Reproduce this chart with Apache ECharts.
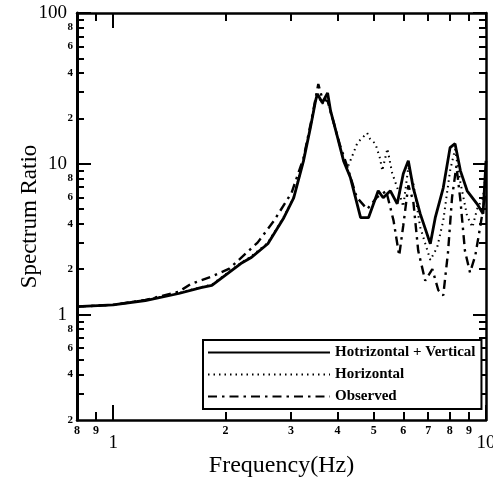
<!DOCTYPE html>
<html>
<head>
<meta charset="utf-8">
<script src="https://cdn.jsdelivr.net/npm/echarts@6/dist/echarts.min.js"></script>
<style>html,body{margin:0;padding:0;background:#fff;}#c{width:493px;height:479px;}</style>
</head>
<body>
<div id="c"></div>
<script>
// ---- data ----
const seriesNames = ['Hotrizontal + Vertical', 'Horizontal', 'Observed'];

const freqHV = [0.8, 1.0, 1.22, 1.50, 1.72, 1.84, 2.20, 2.34, 2.60, 2.87, 3.05, 3.24, 3.38, 3.49, 3.53, 3.64, 3.76, 3.83, 4.00, 4.15, 4.33, 4.61, 4.84, 5.14, 5.30, 5.54, 5.78, 6.00, 6.19, 6.38, 6.66, 7.09, 7.31, 7.68, 8.01, 8.26, 8.54, 8.90, 9.46, 9.82, 10.0];
const ratioHV = [1.13, 1.16, 1.24, 1.38, 1.51, 1.56, 2.18, 2.38, 2.95, 4.39, 5.95, 10.46, 17.3, 26.1, 29.1, 25.4, 29.5, 22.4, 14.9, 10.46, 8.07, 4.39, 4.39, 6.62, 5.95, 6.62, 5.43, 8.58, 10.46, 6.93, 4.67, 2.95, 4.39, 6.93, 12.8, 13.6, 8.98, 6.62, 5.43, 4.67, 10.46];

const freqH = [0.8, 1.0, 1.22, 1.50, 1.72, 1.84, 2.20, 2.34, 2.60, 2.87, 3.05, 3.24, 3.38, 3.49, 3.53, 3.64, 3.76, 3.83, 4.00, 4.15, 4.25, 4.38, 4.52, 4.80, 4.89, 5.05, 5.20, 5.27, 5.44, 5.60, 5.86, 6.00, 6.19, 6.38, 6.66, 7.09, 7.40, 7.68, 8.01, 8.26, 8.54, 8.90, 9.20, 9.46, 9.82, 10.0];
const ratioH = [1.13, 1.16, 1.25, 1.39, 1.52, 1.58, 2.20, 2.42, 3.0, 4.45, 6.0, 10.6, 17.5, 26.0, 28.5, 25.0, 28.5, 22.0, 15.0, 10.6, 9.4, 11.3, 13.8, 16.0, 14.6, 13.6, 10.8, 9.0, 12.6, 8.7, 6.3, 5.2, 9.5, 7.5, 3.8, 2.3, 2.8, 4.2, 9.0, 12.5, 7.5, 4.5, 3.8, 5.0, 6.0, 9.0];

const freqObs = [0.8, 1.0, 1.22, 1.50, 1.62, 1.86, 2.05, 2.44, 2.70, 3.01, 3.24, 3.40, 3.55, 3.64, 3.76, 3.90, 4.05, 4.25, 4.50, 4.80, 5.10, 5.40, 5.65, 5.85, 6.00, 6.19, 6.38, 6.58, 6.87, 7.18, 7.45, 7.68, 7.91, 8.11, 8.33, 8.54, 8.78, 9.06, 9.36, 9.66, 10.0];
const ratioObs = [1.13, 1.16, 1.25, 1.42, 1.60, 1.81, 2.02, 3.0, 4.19, 6.43, 10.9, 19.3, 33.8, 27, 26, 19, 13.5, 9.5, 6.0, 5.0, 6.0, 6.6, 4.2, 2.46, 3.9, 7.2, 5.7, 2.65, 1.68, 2.0, 1.45, 1.34, 2.6, 6.0, 9.7, 5.7, 2.65, 1.9, 2.46, 3.9, 6.6];

// tick values / labels
const xMajorTicks = [1, 10];
const xMinorTicks = [0.9, 2, 3, 4, 5, 6, 7, 8, 9];
const xMinorLabels = [0.8, 0.9, 2, 3, 4, 5, 6, 7, 8, 9];
const yMajorTicks = [1, 10, 100];
const yMinorTicks = [0.3, 0.4, 0.5, 0.6, 0.7, 0.8, 0.9, 2, 3, 4, 5, 6, 7, 8, 9, 20, 30, 40, 50, 60, 70, 80, 90];
const yMinorLabels = [0.2, 0.4, 0.6, 0.8, 2, 4, 6, 8, 20, 40, 60, 80];

const FONT = '"Liberation Serif", "DejaVu Serif", serif';
const zip = (a, b) => a.map((v, i) => [v, b[i]]);
const digit = v => { let d = v; let k = 0; while (d >= 9.5 && k < 10) { d /= 10; k++; } while (d < 0.95 && k < 20) { d *= 10; k++; } return String(Math.round(d)); };

const xMin = 0.8, xMax = 10, yMin = 0.2, yMax = 100;
const baseX = { type: 'log', logBase: 10, min: xMin, max: xMax, gridIndex: 0, splitLine: { show: false }, minorTick: { show: false } };
const baseY = { type: 'log', logBase: 10, min: yMin, max: yMax, gridIndex: 0, splitLine: { show: false }, minorTick: { show: false } };
const lineSty = { show: true, lineStyle: { color: '#000', width: 2.5 } };
const tickSty = (len, vals) => ({ show: true, inside: true, length: len, lineStyle: { color: '#000', width: 2 }, customValues: vals });

const chart = echarts.init(document.getElementById('c'), null, { renderer: 'canvas' });
chart.setOption({
  animation: false,
  backgroundColor: '#fff',
  grid: { left: 77, right: 7, top: 13, bottom: 59, outerBoundsMode: 'none', containLabel: false },
  legend: {
    orient: 'vertical', left: 203, top: 340,
    data: seriesNames,
    itemWidth: 122, itemHeight: 14, itemGap: 7,
    padding: [5, 6, 5, 4],
    borderColor: '#000', borderWidth: 2, backgroundColor: '#fff',
    itemStyle: { opacity: 0 },
    textStyle: { fontFamily: FONT, fontWeight: 'bold', fontSize: 15, color: '#000' }
  },
  xAxis: [
    Object.assign({}, baseX, {
      position: 'bottom', axisLine: lineSty,
      axisTick: tickSty(15, xMajorTicks),
      axisLabel: { show: true, margin: 14, fontFamily: FONT, fontSize: 19, color: '#000', customValues: xMajorTicks, formatter: v => String(Math.round(v)) },
      name: 'Frequency(Hz)', nameLocation: 'middle', nameGap: 34, nameMoveOverlap: false,
      nameTextStyle: { fontFamily: FONT, fontSize: 24, color: '#000' }
    }),
    Object.assign({}, baseX, {
      position: 'bottom', axisLine: { show: false },
      axisTick: tickSty(8, xMinorTicks),
      axisLabel: { show: true, margin: 5, fontFamily: FONT, fontWeight: 'bold', fontSize: 12, color: '#000', customValues: xMinorLabels, formatter: digit }
    }),
    Object.assign({}, baseX, {
      position: 'top', axisLine: lineSty,
      axisTick: tickSty(15, xMajorTicks),
      axisLabel: { show: false }
    }),
    Object.assign({}, baseX, {
      position: 'top', axisLine: { show: false },
      axisTick: tickSty(8, xMinorTicks),
      axisLabel: { show: false }
    })
  ],
  yAxis: [
    Object.assign({}, baseY, {
      position: 'left', axisLine: { show: true, lineStyle: { color: '#000', width: 3 } },
      axisTick: tickSty(14, yMajorTicks),
      axisLabel: { show: true, margin: 10, fontFamily: FONT, fontSize: 19, color: '#000', customValues: yMajorTicks, formatter: v => String(Math.round(v)) },
      name: 'Spectrum Ratio', nameLocation: 'middle', nameGap: 36, nameMoveOverlap: false,
      nameTextStyle: { fontFamily: FONT, fontSize: 23, color: '#000' }
    }),
    Object.assign({}, baseY, {
      position: 'left', axisLine: { show: false },
      axisTick: tickSty(7, yMinorTicks),
      axisLabel: { show: true, margin: 4, fontFamily: FONT, fontWeight: 'bold', fontSize: 11, color: '#000', customValues: yMinorLabels, formatter: digit }
    }),
    Object.assign({}, baseY, {
      position: 'right', axisLine: lineSty,
      axisTick: tickSty(13, yMajorTicks),
      axisLabel: { show: false }
    }),
    Object.assign({}, baseY, {
      position: 'right', axisLine: { show: false },
      axisTick: tickSty(7, yMinorTicks),
      axisLabel: { show: false }
    })
  ],
  series: [
    { name: seriesNames[0], type: 'line', xAxisIndex: 0, yAxisIndex: 0, symbol: 'none', showSymbol: false, z: 3,
      lineStyle: { color: '#000', width: 2.8, type: 'solid' }, itemStyle: { color: '#000' }, data: zip(freqHV, ratioHV) },
    { name: seriesNames[1], type: 'line', xAxisIndex: 0, yAxisIndex: 0, symbol: 'none', showSymbol: false, z: 2,
      lineStyle: { color: '#000', width: 2, type: [1.5, 4] }, itemStyle: { color: '#000' }, data: zip(freqH, ratioH) },
    { name: seriesNames[2], type: 'line', xAxisIndex: 0, yAxisIndex: 0, symbol: 'none', showSymbol: false, z: 2,
      lineStyle: { color: '#000', width: 2.4, type: [9, 5, 2.5, 5] }, itemStyle: { color: '#000' }, data: zip(freqObs, ratioObs) }
  ]
});
</script>
</body>
</html>
